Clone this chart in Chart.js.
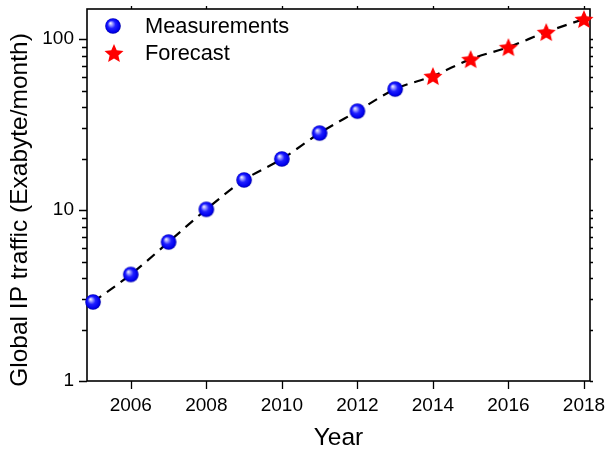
<!DOCTYPE html>
<html>
<head>
<meta charset="utf-8">
<script src="https://cdn.jsdelivr.net/npm/chart.js@4/dist/chart.umd.min.js"></script>
<style>
  html, body { margin: 0; padding: 0; background: #fff; }
  #wrap { width: 607px; height: 449px; position: relative; }
</style>
</head>
<body>
<div id="wrap"><canvas id="c"></canvas></div>
<script>
// Global IP traffic, exabytes per month
const measuredYears = [2005, 2006, 2007, 2008, 2009, 2010, 2011, 2012, 2013];
const measuredTraffic = [2.9, 4.2, 6.5, 10.1, 15.0, 19.9, 28.2, 37.9, 51];
const forecastYears = [2014, 2015, 2016, 2017, 2018];
const forecastTraffic = [60.8, 76.4, 89.8, 110, 131];
const xTickYears = [2006, 2008, 2010, 2012, 2014, 2016, 2018];
const yTickValues = [1, 10, 100];
const xTitle = 'Year';
const yTitle = 'Global IP traffic (Exabyte/month)';

const FONT = "'Liberation Sans', Arial, sans-serif";

// Shaded blue ball marker
function makeSphere(r) {
  const s = Math.ceil(r * 2 + 2);
  const c = document.createElement('canvas');
  c.width = c.height = s;
  const g = c.getContext('2d');
  const cx = s / 2, cy = s / 2;
  const grad = g.createRadialGradient(cx - r * 0.35, cy - r * 0.38, 0, cx, cy, r);
  grad.addColorStop(0, '#ffffff');
  grad.addColorStop(0.18, '#b0b0ff');
  grad.addColorStop(0.5, '#2020ff');
  grad.addColorStop(0.85, '#0000ee');
  grad.addColorStop(1, '#0000a8');
  g.fillStyle = grad;
  g.beginPath();
  g.arc(cx, cy, r, 0, Math.PI * 2);
  g.fill();
  return c;
}

// Filled five-pointed red star marker
function makeStar(R, ratio) {
  const s = Math.ceil(R * 2 + 2);
  const c = document.createElement('canvas');
  c.width = c.height = s;
  const g = c.getContext('2d');
  const cx = s / 2, cy = s / 2 + R * 0.1;
  g.beginPath();
  for (let i = 0; i < 10; i++) {
    const a = -Math.PI / 2 + i * Math.PI / 5;
    const rad = i % 2 ? R * ratio : R;
    const px = cx + rad * Math.cos(a), py = cy + rad * Math.sin(a);
    if (i === 0) g.moveTo(px, py); else g.lineTo(px, py);
  }
  g.closePath();
  g.fillStyle = '#ff0000';
  g.fill();
  return c;
}

const sphereImg = makeSphere(7.8);
const starImg = makeStar(10, 0.46);

const toPoints = (xs, ys) => xs.map((x, i) => ({ x, y: ys[i] }));
const allPoints = toPoints(measuredYears.concat(forecastYears), measuredTraffic.concat(forecastTraffic));

// Fixed axis box sizes, no extra label overflow padding
const fixBox = (w, h) => s => {
  if (w !== null) s.width = w;
  if (h !== null) s.height = h;
  s.paddingLeft = s.paddingRight = s.paddingTop = s.paddingBottom = 0;
};

// Frame, tick marks, axis titles and legend
const framePlugin = {
  id: 'frame',
  beforeDatasetsDraw(chart) {
    const { ctx, chartArea: a, scales } = chart;
    const xs = scales.x, ys = scales.y;
    ctx.save();
    ctx.strokeStyle = '#000';
    ctx.lineWidth = 1.6;
    ctx.strokeRect(a.left, a.top, a.right - a.left, a.bottom - a.top);
    ctx.lineWidth = 1.3;
    ctx.beginPath();
    xTickYears.forEach(v => {
      const px = Math.round(xs.getPixelForValue(v)) + 0.5;
      ctx.moveTo(px, a.bottom); ctx.lineTo(px, a.bottom + 8);
      ctx.moveTo(px, a.top); ctx.lineTo(px, a.top - 3);
    });
    for (let d = 1; d <= 100; d *= 10) {
      for (let m = 1; m <= 9; m++) {
        const v = d * m;
        if (v > ys.max) break;
        const py = Math.round(ys.getPixelForValue(v)) + 0.5;
        const len = m === 1 ? 8 : 5;
        ctx.moveTo(a.left, py); ctx.lineTo(a.left - len, py);
        ctx.moveTo(a.right, py); ctx.lineTo(a.right + 3, py);
      }
    }
    ctx.stroke();

    // axis titles
    ctx.fillStyle = '#000';
    ctx.font = '24.5px ' + FONT;
    ctx.textAlign = 'center';
    ctx.textBaseline = 'middle';
    ctx.fillText(xTitle, (a.left + a.right) / 2, 438);
    ctx.translate(20, 210);
    ctx.rotate(-Math.PI / 2);
    ctx.fillText(yTitle, 0, 0);
    ctx.restore();
  },
  afterDraw(chart) {
    const { ctx } = chart;
    ctx.save();
    ctx.drawImage(sphereImg, 113 - sphereImg.width / 2, 26 - sphereImg.height / 2);
    ctx.drawImage(starImg, 114 - starImg.width / 2, 53 - starImg.height / 2);
    ctx.fillStyle = '#000';
    ctx.font = '21.8px ' + FONT;
    ctx.textBaseline = 'middle';
    ctx.textAlign = 'left';
    ctx.fillText('Measurements', 145, 27);
    ctx.fillText('Forecast', 145, 54);
    ctx.restore();
  }
};

new Chart(document.getElementById('c'), {
  type: 'scatter',
  data: {
    datasets: [
      {
        label: 'Measurements',
        data: toPoints(measuredYears, measuredTraffic),
        pointStyle: sphereImg,
        order: 1,
        clip: false
      },
      {
        label: 'Forecast',
        data: toPoints(forecastYears, forecastTraffic),
        pointStyle: starImg,
        order: 1,
        clip: false
      },
      {
        label: 'Trend',
        data: allPoints,
        showLine: true,
        borderColor: '#000',
        borderWidth: 2.2,
        borderDash: [10, 7],
        tension: 0.4,
        cubicInterpolationMode: 'monotone',
        pointRadius: 0,
        pointHoverRadius: 0,
        order: 2,
        clip: false
      }
    ]
  },
  options: {
    responsive: true,
    maintainAspectRatio: false,
    animation: false,
    layout: { padding: { top: 9, right: 17, left: 0, bottom: 0 } },
    plugins: {
      legend: { display: false },
      tooltip: { enabled: false }
    },
    scales: {
      x: {
        type: 'linear',
        min: 2004.84,
        max: 2018.16,
        afterBuildTicks: s => { s.ticks = xTickYears.map(v => ({ value: v })); },
        afterFit: fixBox(null, 68),
        grid: { display: false, drawTicks: false },
        border: { display: false },
        ticks: {
          color: '#000',
          font: { family: FONT, size: 19 },
          padding: 13,
          maxRotation: 0,
          callback: v => String(v)
        }
      },
      y: {
        type: 'logarithmic',
        min: 1,
        max: 150,
        afterBuildTicks: s => { s.ticks = yTickValues.map(v => ({ value: v })); },
        afterFit: fixBox(87, null),
        grid: { display: false, drawTicks: false },
        border: { display: false },
        ticks: {
          color: '#000',
          font: { family: FONT, size: 19 },
          padding: 13,
          callback: v => String(v)
        }
      }
    }
  },
  plugins: [framePlugin]
});
</script>
</body>
</html>
